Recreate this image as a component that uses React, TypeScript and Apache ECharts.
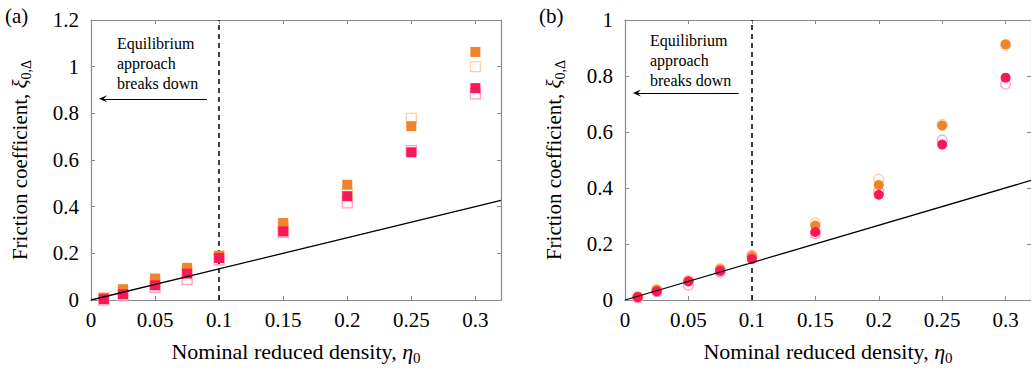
import React, { useEffect, useRef } from 'react';
import * as echarts from 'echarts';

// ---------- data ----------
const eta = [0.01, 0.025, 0.05, 0.075, 0.1, 0.15, 0.2, 0.25, 0.3];

// panel (a) – squares
const orangeFilledA = [0.01, 0.046, 0.092, 0.138, 0.19, 0.33, 0.494, 0.745, 1.063];
const orangeOpenA = [0.008, 0.036, 0.078, 0.122, 0.186, 0.315, 0.46, 0.778, 1.0];
const pinkFilledA = [0.004, 0.025, 0.063, 0.113, 0.18, 0.294, 0.445, 0.633, 0.908];
const pinkOpenA = [0.0, 0.02, 0.054, 0.088, 0.172, 0.29, 0.416, 0.64, 0.883];

// panel (b) – circles
const orangeFilledB = [0.012, 0.036, 0.068, 0.11, 0.155, 0.266, 0.411, 0.623, 0.913];
const orangeOpenB = [0.012, 0.038, 0.07, 0.112, 0.16, 0.275, 0.431, 0.627, 0.91];
const pinkFilledB = [0.01, 0.031, 0.066, 0.104, 0.146, 0.243, 0.376, 0.555, 0.794];
const pinkOpenB = [0.008, 0.03, 0.053, 0.1, 0.157, 0.237, 0.387, 0.571, 0.771];

// reference line (end points)
const refLineX = [0, 0.32];
const refLineY = [0, 0.427];

// equilibrium limit & arrows
const limitEta = 0.1;
const arrowA = { y: 0.862, from: 0.0906, to: 0.0094 };
const arrowB = { y: 0.739, from: 0.0896, to: 0.0094 };

const yMaxA = 1.2;
const yMaxB = 1.0;
const xMax = 0.32;
const annotationLines = ['Equilibrium', 'approach', 'breaks down'];
const panelLabels = ['(a)', '(b)'];

// ---------- styles ----------
const FONT = 'Liberation Serif';
const AXIS_GRAY = '#8a8a8a';
const ORANGE = '#EF8526';
const PINK = '#FC1858';
const ORANGE_LIGHT = '#FCCFA3';
const PINK_LIGHT = '#FFA0BE';

const pairs = (xs: number[], ys: number[]) => xs.map((x, i) => [x, ys[i]]);

const richName = (size: number) => ({
  t: { fontFamily: FONT, fontSize: size, color: '#000', lineHeight: size + 5 },
  i: { fontFamily: FONT, fontSize: size, color: '#000', fontStyle: 'italic', lineHeight: size + 5 },
  s: { fontFamily: FONT, fontSize: Math.round(size * 0.68), color: '#000', lineHeight: 14, verticalAlign: 'bottom' },
});

function xAxes(gridIndex: number) {
  const common = {
    type: 'value',
    gridIndex,
    min: 0,
    max: xMax,
    interval: 0.05,
    splitLine: { show: false },
    axisLine: { onZero: false, lineStyle: { color: AXIS_GRAY, width: 1.2 } },
    axisTick: { inside: true, length: 4, lineStyle: { color: AXIS_GRAY, width: 1 } },
  };
  return [
    {
      ...common,
      position: 'bottom',
      axisLabel: { color: '#000', fontFamily: FONT, fontSize: 21, margin: 9, showMaxLabel: false },
      name: '{t|Nominal reduced density, }{i|η}{s|0}',
      nameLocation: 'middle',
      nameGap: 38,
      nameTextStyle: { fontFamily: FONT, rich: richName(22) },
    },
    { ...common, position: 'top', axisLabel: { show: false } },
  ];
}

function yAxes(gridIndex: number, max: number) {
  const common = {
    type: 'value',
    gridIndex,
    min: 0,
    max,
    interval: 0.2,
    splitLine: { show: false },
    axisLine: { onZero: false, lineStyle: { color: AXIS_GRAY, width: 1.2 } },
    axisTick: { inside: true, length: 4, lineStyle: { color: AXIS_GRAY, width: 1 } },
  };
  return [
    {
      ...common,
      position: 'left',
      axisLabel: { color: '#000', fontFamily: FONT, fontSize: 21, margin: 12 },
      name: '{t|Friction coefficient, }{i|ξ}{s|0,Δ}',
      nameLocation: 'middle',
      nameRotate: 90,
      nameGap: 58,
      nameTextStyle: { fontFamily: FONT, rich: richName(21) },
    },
    { ...common, position: 'right', axisLabel: { show: false } },
  ];
}

function panelSeries(
  idx: number,
  symbol: string,
  oF: number[], oO: number[], pF: number[], pO: number[],
  arrow: { y: number; from: number; to: number }
) {
  const xa = idx * 2;
  const ya = idx * 2;
  const scatter = (data: number[], filled: boolean, color: string) => ({
    type: 'scatter',
    xAxisIndex: xa,
    yAxisIndex: ya,
    symbol,
    symbolSize: 10,
    z: 3,
    data: pairs(eta, data),
    itemStyle: filled
      ? { color, borderWidth: 0, opacity: 1 }
      : { color: 'rgba(255,255,255,0)', borderColor: color, borderWidth: 1.3, opacity: 1 },
    emphasis: { disabled: true },
    silent: true,
  });
  return [
    {
      type: 'line',
      xAxisIndex: xa,
      yAxisIndex: ya,
      data: [],
      z: 1,
      silent: true,
      markLine: {
        silent: true,
        z: 1,
        animation: false,
        label: { show: false },
        data: [
          [
            { coord: [limitEta, 0], symbol: 'none' },
            { coord: [limitEta, idx === 0 ? yMaxA : yMaxB], symbol: 'none' },
          ],
          [
            { coord: [arrow.from, arrow.y], symbol: 'none', lineStyle: { type: 'solid', width: 1.1, color: '#000' } },
            {
              coord: [arrow.to, arrow.y],
              symbol: 'path://M0,0 L5,10 L0,6 L-5,10 Z',
              symbolSize: [7, 8],
            },
          ],
        ],
        lineStyle: { color: '#000', width: 1.5, type: [5, 4] },
      },
    },
    scatter(oO, false, ORANGE_LIGHT),
    scatter(pO, false, PINK_LIGHT),
    scatter(oF, true, ORANGE),
    scatter(pF, true, PINK),
    {
      type: 'line',
      xAxisIndex: xa,
      yAxisIndex: ya,
      data: pairs(refLineX, refLineY),
      showSymbol: false,
      symbol: 'none',
      z: 4,
      silent: true,
      lineStyle: { color: '#000', width: 1.3 },
    },
  ];
}

function annotation(x: number, y: number) {
  return annotationLines.map((line, i) => ({
    type: 'text',
    left: x,
    top: y + i * 20,
    style: { text: line, fontFamily: FONT, fontSize: 16, fill: '#000' },
    silent: true,
  }));
}

const option = {
  animation: false,
  backgroundColor: '#fff',
  textStyle: { fontFamily: FONT },
  grid: [
    { left: 91, top: 20, width: 410, height: 287 },
    { left: 625, top: 20, width: 411, height: 287 },
  ],
  xAxis: [...xAxes(0), ...xAxes(1)],
  yAxis: [...yAxes(0, yMaxA), ...yAxes(1, yMaxB)],
  series: [
    ...panelSeries(0, 'rect', orangeFilledA, orangeOpenA, pinkFilledA, pinkOpenA, arrowA),
    ...panelSeries(1, 'circle', orangeFilledB, orangeOpenB, pinkFilledB, pinkOpenB, arrowB),
  ],
  graphic: [
    { type: 'text', left: 5, top: 5, style: { text: panelLabels[0], fontFamily: FONT, fontSize: 21, fill: '#000' } },
    { type: 'text', left: 539, top: 5, style: { text: panelLabels[1], fontFamily: FONT, fontSize: 21, fill: '#000' } },
    ...annotation(117, 35),
    ...annotation(650, 32),
  ],
};

export default function App() {
  const ref = useRef<HTMLDivElement>(null);
  useEffect(() => {
    document.body.style.margin = '0';
    const chart = echarts.init(ref.current!, null, { renderer: 'svg' });
    chart.setOption(option as any);
    return () => chart.dispose();
  }, []);
  return <div ref={ref} style={{ width: 1031, height: 370 }} />;
}
